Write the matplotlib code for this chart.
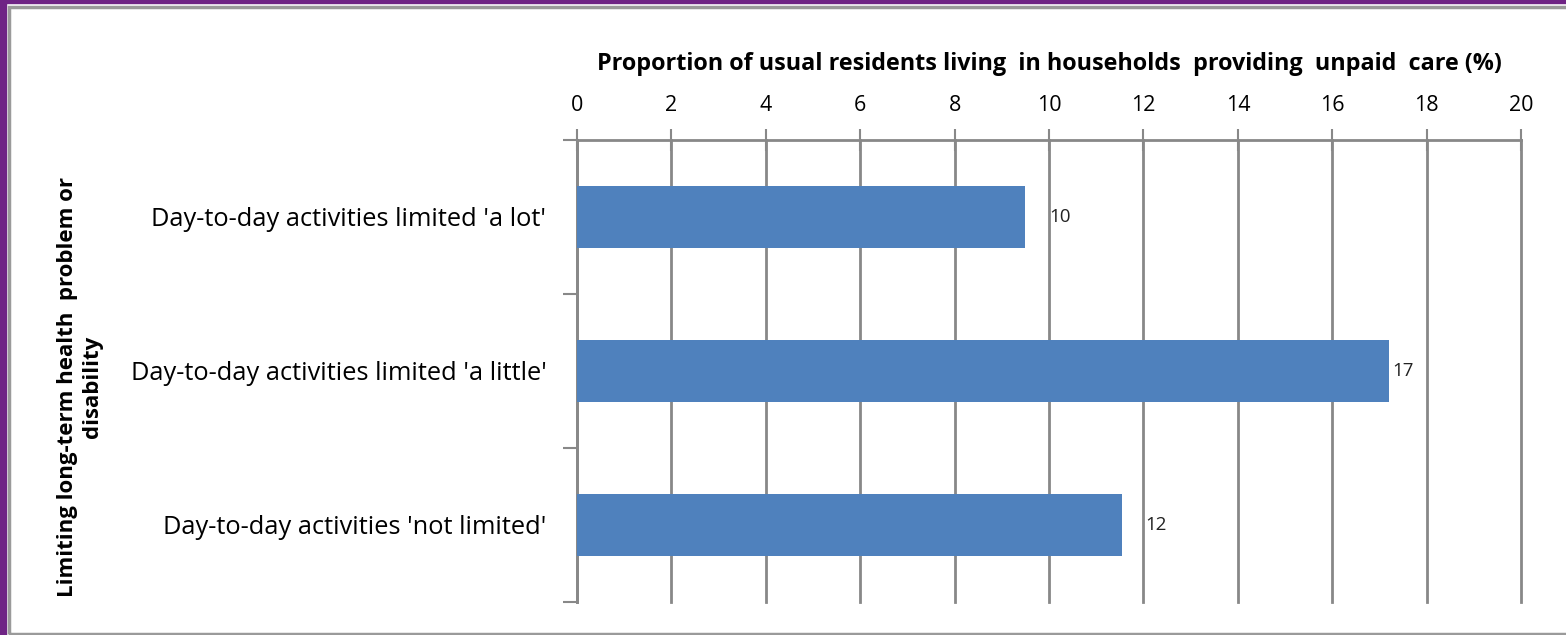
import matplotlib.pyplot as plt
from matplotlib.patches import Rectangle

plt.rcParams['font.family'] = ['Open Sans', 'DejaVu Sans']

categories = ["Day-to-day activities limited 'a lot'",
              "Day-to-day activities limited 'a little'",
              "Day-to-day activities 'not limited'"]
values = [9.5, 17.2, 11.55]
labels = ['10', '17', '12']
xticks = [0, 2, 4, 6, 8, 10, 12, 14, 16, 18, 20]

W, H = 1566, 635
fig = plt.figure(figsize=(W / 100, H / 100), dpi=100)

# frame: purple strips, then a grey inner border
fig.patches.append(Rectangle((0, 0), 6 / W, 1, transform=fig.transFigure,
                             color='#6f2485', zorder=0))
fig.patches.append(Rectangle((0, 1 - 3 / H), 1, 3 / H, transform=fig.transFigure,
                             color='#6f2485', zorder=0))
fig.patches.append(Rectangle((9 / W, 1.5 / H), 1.2, 1 - 8 / H, transform=fig.transFigure,
                             fill=False, edgecolor='#9a9a9a', lw=2.5, zorder=1))

ax = fig.add_axes([577 / W, 1 - 602 / H, (1521 - 577) / W, (602 - 140) / H])

pos = list(range(len(categories)))
ax.barh(pos, values, height=0.4, color='#4f81bd', zorder=3)
# excel pushed two of the labels past the next gridline
pads = [0.5, 0.08, 0.5]
for p, v, t, d in zip(pos, values, labels, pads):
    ax.text(v + d, p, t, va='center', ha='left', fontsize=13.5, color='#222222')

ax.set_xlim(0, 20)
ax.set_ylim(2.5, -0.5)
ax.xaxis.tick_top()
ax.xaxis.set_label_position('top')
ax.set_xticks(xticks)
ax.tick_params(axis='x', direction='inout', length=16, width=1.5, color='#888888',
               labelsize=15.5, pad=9)
ax.set_xlabel('Proportion of usual residents living  in households  providing  unpaid  care (%)',
              fontsize=16.8, fontweight='bold', labelpad=18)
ax.grid(axis='x', color='#888888', lw=2, zorder=0)
for gl in ax.get_xgridlines():
    gl.set_clip_on(False)

ax.set_yticks([-0.5, 0.5, 1.5, 2.5])
ax.set_yticklabels([])
ax.set_yticks(pos, minor=True)
ax.set_yticklabels(categories, minor=True)
ax.tick_params(axis='y', which='major', direction='out', length=10, width=1.5, color='#888888')
ax.tick_params(axis='y', which='minor', length=0, labelsize=18.3, pad=22)

for s in ['right', 'bottom']:
    ax.spines[s].set_visible(False)
for s in ['left', 'top']:
    ax.spines[s].set_color('#888888')
    ax.spines[s].set_linewidth(2)

fig.text(80 / W, 1 - 387 / H, 'Limiting long-term health  problem or\ndisability',
         rotation=90, ha='center', va='center', fontsize=16, fontweight='bold',
         linespacing=1.25)

fig.savefig('out.png', dpi=100)
